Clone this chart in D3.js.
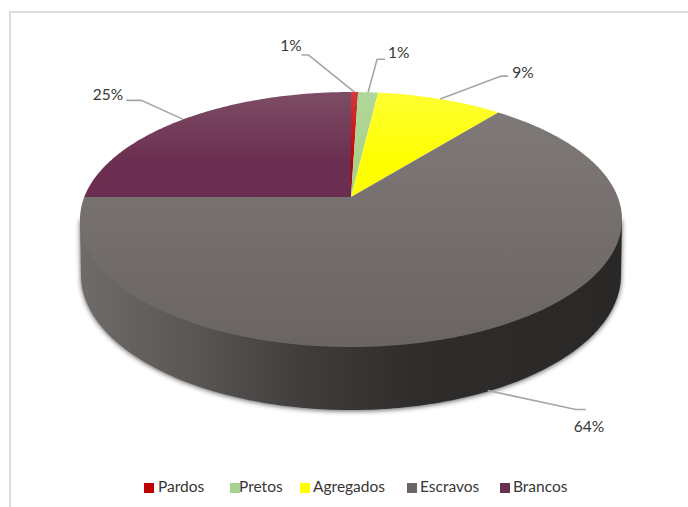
<!DOCTYPE html>
<html><head><meta charset="utf-8">
<script src="https://cdnjs.cloudflare.com/ajax/libs/d3/7.8.5/d3.min.js"></script>
<style>html,body{margin:0;padding:0;background:#fff}svg{display:block}text{font-family:Lato,"Open Sans",sans-serif;fill:#363636}</style>
</head><body><svg id="c" width="688" height="507"></svg>
<script>
const categories = ["Pardos","Pretos","Agregados","Escravos","Brancos"];
const values = [0.5,1.4,8.9,64.2,25.0];
const colorsTop = ["#d23a3a","#b0d79a","#ffff33","#807b79","#7d4d65"];
const colorsBottom = ["#c00000","#a9d18e","#ffff00","#6a6564","#6b2e50"];
// label layout relative to each slice's leader anchor
const leaderElbow = [[-46,-37],[9,-33],[61,-23],[88,19],[-42,-19]];
const leaderRun = [-7,8,7,10,-15];
const labelOffset = [[0,-8],[3,-5],[4,-2],[-12,19],[-3,-4]];
const labelAnchor = ["end","start","start","start","end"];
const legendSwatchX = [144,230,300,407,500];
const legendTextX = [158,239,313,420,513];

const svg = d3.select("#c");
const defs = svg.append("defs");
const cx=351, cy=219.5, rx=271, ry=127.5, a=0.176;
const botCy=275, botRx=270, botRy=135;

function proj(t){ // angle clockwise from 12 o'clock, on a perspective-tilted circle
  const u=Math.sin(t), v=Math.cos(t), d=1+a*v;
  return [cx+rx*u*Math.sqrt(1-a*a)/d, cy-ry*(v+a)/d];
}
const apex=[cx,cy-ry*a];
const pie=d3.pie().sort(null).value(d=>d).startAngle(0).endAngle(2*Math.PI);
const arcs=pie(values);
const line=d3.line();

// frame
svg.append("path").attr("d",line([[10,507],[10,12],[688,12]])).attr("fill","none").attr("stroke","#dcdcdc").attr("stroke-width",2);

// gradients
const sg=defs.append("linearGradient").attr("id","side").attr("gradientUnits","userSpaceOnUse")
  .attr("x1",80).attr("x2",622).attr("y1",0).attr("y2",0);
[[0,"#6e6b69"],[0.2,"#5a5755"],[0.42,"#3f3d3c"],[0.62,"#2f2d2c"],[1,"#2a2827"]].forEach(s=>sg.append("stop").attr("offset",s[0]).attr("stop-color",s[1]));
categories.forEach((c,i)=>{
  const g=defs.append("linearGradient").attr("id","t"+i).attr("gradientUnits","userSpaceOnUse")
    .attr("x1",0).attr("x2",0).attr("y1",cy-ry).attr("y2",i===3?cy+ry:cy-ry+70);
  g.append("stop").attr("offset",0).attr("stop-color",colorsTop[i]);
  g.append("stop").attr("offset",1).attr("stop-color",colorsBottom[i]);
});
const blur=defs.append("filter").attr("id","blur").attr("x","-10%").attr("y","-10%").attr("width","120%").attr("height","120%");
blur.append("feGaussianBlur").attr("stdDeviation",2.6);

// side wall
const sidePts=[];
for(let i=0;i<=180;i++){const th=Math.PI*i/180;sidePts.push([cx+botRx*Math.cos(th),botCy+botRy*Math.sin(th)]);}
const sideD=line([[cx+rx,cy],...sidePts,[cx-rx,cy]])+"Z";
svg.append("path").attr("d",sideD).attr("fill","#333").attr("opacity",.8).attr("filter","url(#blur)").attr("transform","translate(0,1)");
svg.append("path").attr("d",sideD).attr("fill","url(#side)");

// top face
function sliceD(d){
  const n=Math.max(4,Math.ceil((d.endAngle-d.startAngle)*90)), pts=[apex];
  for(let i=0;i<=n;i++)pts.push(proj(d.startAngle+(d.endAngle-d.startAngle)*i/n));
  return line(pts)+"Z";
}
svg.append("g").selectAll("path").data(arcs).join("path")
  .attr("d",sliceD).attr("fill",(d,i)=>`url(#t${i})`);

// leaders and labels
arcs.forEach((d,i)=>{
  const mid=(d.startAngle+d.endAngle)/2;
  const p=proj(mid);
  if(i===3)p[1]+=61;
  const e=[p[0]+leaderElbow[i][0],p[1]+leaderElbow[i][1]];
  const f=[e[0]+leaderRun[i],e[1]];
  svg.append("path").attr("d",line([p,e,f])).attr("fill","none").attr("stroke","#a6a6a6").attr("stroke-width",1.6);
  svg.append("text").attr("x",f[0]+labelOffset[i][0]).attr("y",f[1]+labelOffset[i][1])
    .attr("text-anchor",labelAnchor[i]).attr("dominant-baseline","middle").attr("font-size",15.5)
    .text(Math.round(d.value)+"%");
});

// legend
categories.forEach((c,i)=>{
  svg.append("rect").attr("x",legendSwatchX[i]).attr("y",483).attr("width",10).attr("height",10).attr("fill",colorsBottom[i]);
  svg.append("text").attr("x",legendTextX[i]).attr("y",488).attr("dominant-baseline","middle").attr("font-size",15.5).text(c);
});
</script></body></html>
